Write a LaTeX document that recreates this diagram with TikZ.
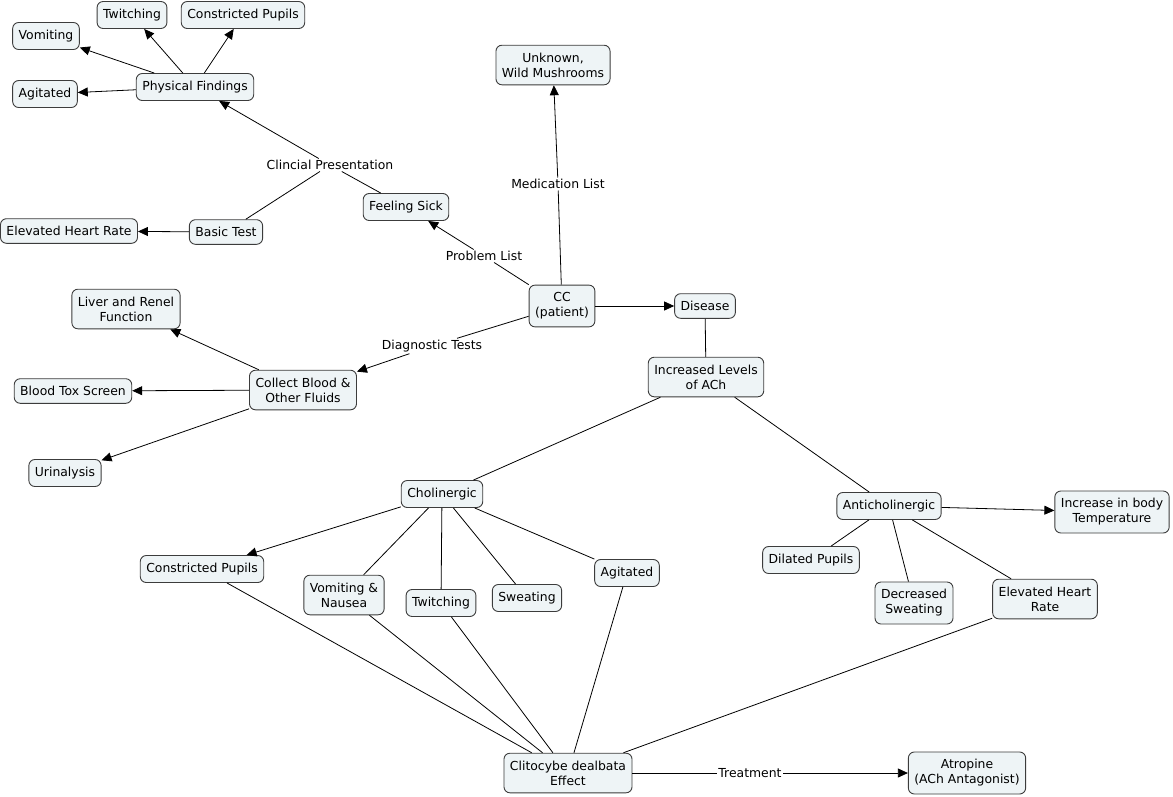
\documentclass[tikz,border=0pt]{standalone}
\usepackage{fontspec}
\setmainfont{DejaVu Sans}
\usetikzlibrary{arrows.meta}
\definecolor{cmapfill}{RGB}{238,244,246}
\definecolor{cmapline}{RGB}{60,60,60}

\begin{document}
\begin{tikzpicture}[x=1pt, y=-1pt,
    concept/.style={draw=cmapline, line width=0.9pt, fill=cmapfill, rounded corners=6pt,
        align=center, inner xsep=6pt, inner ysep=7.5pt, font=\fontsize{12.4}{15}\selectfont},
    linkword/.style={inner sep=1.5pt, font=\fontsize{12.4}{15}\selectfont},
    cline/.style={draw=black, line width=0.8pt},
    carrow/.style={cline, -{Triangle[length=10pt,width=9pt]}}]
    \useasboundingbox (0,0) rectangle (1173,796);

    % concepts
    \node (twitchtop) [concept] at (132,15) {Twitching};
    \node (pupilstop) [concept] at (243,15) {Constricted Pupils};
    \node (vomittop) [concept] at (46,36) {Vomiting};
    \node (physical) [concept] at (195,87) {Physical Findings};
    \node (agitatedtop) [concept] at (45,94) {Agitated};
    \node (mushroom) [concept] at (553,65) {Unknown,\\Wild Mushrooms};
    \node (sick) [concept] at (406,207) {Feeling Sick};
    \node (heartleft) [concept] at (69,231) {Elevated Heart Rate};
    \node (basic) [concept] at (226,232) {Basic Test};
    \node (cc) [concept] at (562,306) {CC\\(patient)};
    \node (disease) [concept] at (705,306) {Disease};
    \node (liver) [concept] at (126,309) {Liver and Renel\\Function};
    \node (blood) [concept] at (303,390) {Collect Blood \&\\Other Fluids};
    \node (tox) [concept] at (73,391) {Blood Tox Screen};
    \node (ach) [concept] at (706,377) {Increased Levels\\of ACh};
    \node (urine) [concept] at (65,473) {Urinalysis};
    \node (cholin) [concept] at (442,494) {Cholinergic};
    \node (anticholin) [concept] at (889,506) {Anticholinergic};
    \node (temp) [concept] at (1112,512) {Increase in body\\Temperature};
    \node (pupilsmid) [concept] at (202,569) {Constricted Pupils};
    \node (dilated) [concept] at (811,560) {Dilated Pupils};
    \node (agitatedmid) [concept] at (627,573) {Agitated};
    \node (nausea) [concept] at (344,595) {Vomiting \&\\Nausea};
    \node (sweat) [concept] at (527,598) {Sweating};
    \node (twitchmid) [concept] at (441,603) {Twitching};
    \node (dsweat) [concept] at (914,603) {Decreased\\Sweating};
    \node (heartright) [concept] at (1045,599) {Elevated Heart\\Rate};
    \node (effect) [concept] at (568,773) {Clitocybe dealbata\\Effect};
    \node (atropine) [concept] at (967,773) {Atropine\\(ACh Antagonist)};

    % linking words
    \node (clinical) [linkword] at (330,165) {Clincial Presentation};
    \node (medlist) [linkword] at (558,184) {Medication List};
    \node (problist) [linkword] at (484,256) {Problem List};
    \node (diagtest) [linkword] at (432,346) {Diagnostic Tests};
    \node (treat) [linkword] at (750,773) {Treatment};

    % links
    \draw[cline] (cc) -- (medlist);
    \draw[carrow] (medlist) -- (mushroom);
    \draw[cline] (cc) -- (problist);
    \draw[carrow] (problist) -- (sick);
    \draw[cline] (sick) -- (clinical);
    \draw[carrow] (clinical) -- (physical);
    \draw[cline] (clinical) -- (basic);
    \draw[carrow] (basic) -- (heartleft);
    \draw[carrow] (physical) -- (vomittop);
    \draw[carrow] (physical) -- (twitchtop);
    \draw[carrow] (physical) -- (pupilstop);
    \draw[carrow] (physical) -- (agitatedtop);
    \draw[cline] (cc) -- (diagtest);
    \draw[carrow] (diagtest) -- (blood);
    \draw[carrow] (blood) -- (liver);
    \draw[carrow] (blood) -- (tox);
    \draw[carrow] (blood) -- (urine);
    \draw[carrow] (cc) -- (disease);
    \draw[cline] (disease) -- (ach);
    \draw[cline] (ach) -- (cholin);
    \draw[cline] (ach) -- (anticholin);
    \draw[carrow] (cholin) -- (pupilsmid);
    \draw[cline] (cholin) -- (nausea);
    \draw[cline] (cholin) -- (twitchmid);
    \draw[cline] (cholin) -- (sweat);
    \draw[cline] (cholin) -- (agitatedmid);
    \draw[carrow] (anticholin) -- (temp);
    \draw[cline] (anticholin) -- (dilated);
    \draw[cline] (anticholin) -- (dsweat);
    \draw[cline] (anticholin) -- (heartright);
    \draw[cline] (pupilsmid) -- (effect);
    \draw[cline] (nausea) -- (effect);
    \draw[cline] (twitchmid) -- (effect);
    \draw[cline] (agitatedmid) -- (effect);
    \draw[cline] (heartright) -- (effect);
    \draw[cline] (effect) -- (treat);
    \draw[carrow] (treat) -- (atropine);
\end{tikzpicture}
\end{document}
